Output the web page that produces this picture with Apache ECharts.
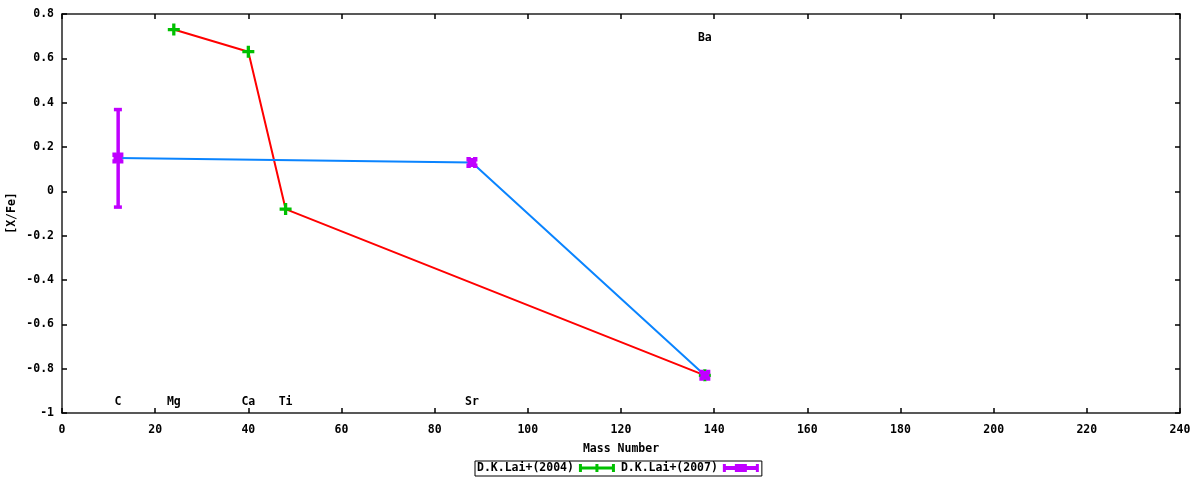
<!DOCTYPE html>
<html>
<head>
<meta charset="utf-8">
<script src="https://cdn.jsdelivr.net/npm/echarts@6/dist/echarts.min.js"></script>
<style>
html,body{margin:0;padding:0;background:#fff}
#chart{width:1200px;height:480px}
</style>
</head>
<body>
<div id="chart"></div>
<script>
// 数据：[质量数, [X/Fe]]
const LAI2004=[[24,0.73],[40,0.63],[48,-0.08],[138,-0.83]];
const LAI2007=[[12,0.15],[88,0.13],[138,-0.83]];
const LAI2007_ERR=[[12,-0.07,0.37]];           // [x, 下限, 上限]
const ELEMENTS=[[12,-0.95,'C'],[24,-0.95,'Mg'],[40,-0.95,'Ca'],[48,-0.95,'Ti'],[88,-0.95,'Sr'],[138,0.69,'Ba']];
const X_MIN=0, X_MAX=240, X_STEP=20;
const Y_MIN=-1, Y_MAX=0.8, Y_STEP=0.2;

const FONT='DejaVu Sans Mono';
const TXT={fontFamily:FONT,fontWeight:'bold',fontSize:11.5,color:'#000'};
const AXLINE={onZero:false,lineStyle:{color:'#222',width:1.5}};
const TICK={inside:true,length:5,lineStyle:{color:'#000',width:1.5}};

const PLUS='path://M4,0H7V4H11V7H7V11H4V7H0V4H4Z';
const XBOX='path://M0,0H4V1H6V0H10V4H9V6H10V10H6V9H4V10H0V6H1V4H0Z';
// 图例样式：误差棒两端短竖 + 中间符号
const ICON04='path://M0,0H3V2.5H16.5V0H19.5V2.5H33V0H36V8H33V5.5H19.5V8H16.5V5.5H3V8H0Z';
const ICON07='path://M0,0H3V2H12V0H24V2H33V0H36V8H33V6H24V8H12V6H3V8H0Z';

const chart=echarts.init(document.getElementById('chart'));
chart.setOption({
  animation:false,
  grid:{left:62,right:20,top:14,bottom:67,outerBoundsMode:'none',containLabel:false},
  // y 轴标题：v6 会把 axis name 推离刻度标签，这里直接放文字
  graphic:[{type:'text',x:12,y:213,rotation:Math.PI/2,
    style:{text:'[X/Fe]',font:'bold 11.5px "DejaVu Sans Mono"',fill:'#000',
      align:'center',verticalAlign:'middle'}}],
  legend:{left:475,top:461,align:'right',orient:'horizontal',
    borderColor:'#000',borderWidth:1,borderRadius:0,padding:[1,3,2,2],
    itemWidth:36,itemHeight:8,itemGap:6,textStyle:TXT,
    data:[{name:'D.K.Lai+(2004)',icon:ICON04,itemStyle:{color:'#00c000'}},
          {name:'D.K.Lai+(2007)',icon:ICON07,itemStyle:{color:'#c000ff'}}]},
  xAxis:[
    {type:'value',min:X_MIN,max:X_MAX,interval:X_STEP,position:'bottom',
     name:'Mass Number',nameLocation:'middle',nameGap:30,nameTextStyle:TXT,
     axisLine:AXLINE,axisTick:TICK,splitLine:{show:false},
     axisLabel:Object.assign({margin:11},TXT)},
    {type:'value',min:X_MIN,max:X_MAX,interval:X_STEP,position:'top',
     axisLine:AXLINE,axisTick:TICK,splitLine:{show:false},axisLabel:{show:false}}
  ],
  yAxis:[
    {type:'value',min:Y_MIN,max:Y_MAX,interval:Y_STEP,position:'left',
     axisLine:AXLINE,axisTick:TICK,splitLine:{show:false},
     axisLabel:Object.assign({margin:8},TXT)},
    {type:'value',min:Y_MIN,max:Y_MAX,interval:Y_STEP,position:'right',
     axisLine:AXLINE,axisTick:TICK,splitLine:{show:false},axisLabel:{show:false}}
  ],
  series:[
    {type:'line',data:LAI2004,showSymbol:false,silent:true,z:2,
     lineStyle:{color:'#ff0000',width:2}},
    {type:'line',data:LAI2007,showSymbol:false,silent:true,z:2,
     lineStyle:{color:'#0a84ff',width:2}},
    {name:'D.K.Lai+(2004)',type:'scatter',data:LAI2004,symbol:PLUS,symbolSize:12,z:3,
     itemStyle:{color:'#00c000',opacity:1}},
    {name:'D.K.Lai+(2007)',type:'custom',data:LAI2007_ERR,z:3,
     renderItem:(params,api)=>{
       const lo=api.coord([api.value(0),api.value(1)]);
       const hi=api.coord([api.value(0),api.value(2)]);
       const st={fill:'#c000ff'};
       return {type:'group',children:[
         {type:'rect',shape:{x:lo[0]-1.5,y:hi[1],width:3.5,height:lo[1]-hi[1]},style:st},
         {type:'rect',shape:{x:lo[0]-4,y:hi[1]-1.5,width:8,height:3.5},style:st},
         {type:'rect',shape:{x:lo[0]-4,y:lo[1]-1.5,width:8,height:3.5},style:st}
       ]};
     }},
    {name:'D.K.Lai+(2007)',type:'scatter',data:LAI2007,symbol:XBOX,symbolSize:11,z:4,
     itemStyle:{color:'#c000ff',opacity:1}},
    {type:'scatter',data:ELEMENTS,symbolSize:0,silent:true,z:5,itemStyle:{opacity:1},
     label:{show:true,position:'inside',formatter:p=>p.value[2],
       fontFamily:FONT,fontWeight:'bold',fontSize:11.5,color:'#000'}}
  ]
});
</script>
</body>
</html>
